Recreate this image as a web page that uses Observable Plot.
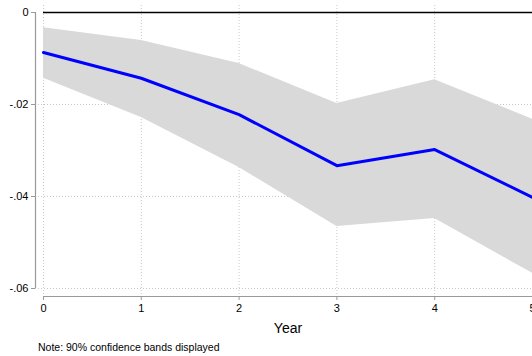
<!DOCTYPE html>
<html>
<head>
<meta charset="utf-8">
<script src="https://cdn.jsdelivr.net/npm/d3@7"></script>
<script src="https://cdn.jsdelivr.net/npm/@observablehq/plot@0.6"></script>
<style>
  html, body { margin: 0; padding: 0; background: white; }
  body { width: 532px; height: 356px; overflow: hidden; font-family: "Liberation Sans", Arial, sans-serif; }
  #note { font-size: 10.5px; color: #000; padding-left: 38px; margin-top: 7px; }
</style>
</head>
<body>
<div id="chart"></div>
<div id="note">Note: 90% confidence bands displayed</div>
<script>
const years = [0, 1, 2, 3, 4, 5];
const estimate = [-0.0087, -0.0143, -0.0222, -0.0333, -0.0298, -0.0402];
const upper = [-0.0033, -0.0061, -0.0111, -0.0198, -0.0146, -0.0232];
const lower = [-0.0143, -0.0228, -0.0337, -0.0465, -0.0448, -0.0567];
const yTicks = [0, -0.02, -0.04, -0.06];
const xLabel = "Year";

const data = years.map((t, i) => ({t, est: estimate[i], hi: upper[i], lo: lower[i]}));
const fmt = d => d === 0 ? "0" : d.toFixed(2).replace("0.", ".");

const chart = Plot.plot({
  width: 532,
  height: 334,
  marginTop: 12,
  marginRight: 0,
  marginLeft: 35,
  marginBottom: 38,
  style: {fontFamily: "Liberation Sans, Arial, sans-serif", fontSize: "11px", background: "white", overflow: "visible"},
  x: {domain: [0, 5], insetLeft: 8},
  y: {domain: [-0.06, 0], insetBottom: 8},
  marks: [
    Plot.gridX(years, {stroke: "#c8c8c8", strokeOpacity: 1, strokeDasharray: "1,2", insetTop: -7}),
    Plot.gridY(yTicks.filter(d => d !== 0), {stroke: "#c8c8c8", strokeOpacity: 1, strokeDasharray: "1,2"}),
    Plot.areaY(data, {x: "t", y1: "lo", y2: "hi", fill: "#d9d9d9"}),
    Plot.ruleY([0], {x1: 0, x2: 5, stroke: "#000", strokeWidth: 1.3}),
    Plot.lineY(data, {x: "t", y: "est", stroke: "#0000ff", strokeWidth: 3}),
    Plot.ruleX([0], {dx: -8, y1: 0, y2: -0.06, stroke: "#999", strokeWidth: 1.2}),
    Plot.ruleY([-0.06], {x1: 0, x2: 5, dy: 8, stroke: "#999", strokeWidth: 1.2}),
    Plot.axisY(yTicks, {tickSize: 4, tickPadding: 3, tickFormat: fmt, stroke: "#999", fill: "#000", label: null, fontSize: 11}),
    Plot.axisX(years, {tickSize: 4, tickPadding: 4, tickFormat: d => String(d), stroke: "#999", fill: "#000", label: null, fontSize: 11}),
    Plot.text([xLabel], {frameAnchor: "bottom", x: () => 2.5, dy: 36, fontSize: 14, fill: "#000"})
  ]
});
document.getElementById("chart").appendChild(chart);
</script>
</body>
</html>
